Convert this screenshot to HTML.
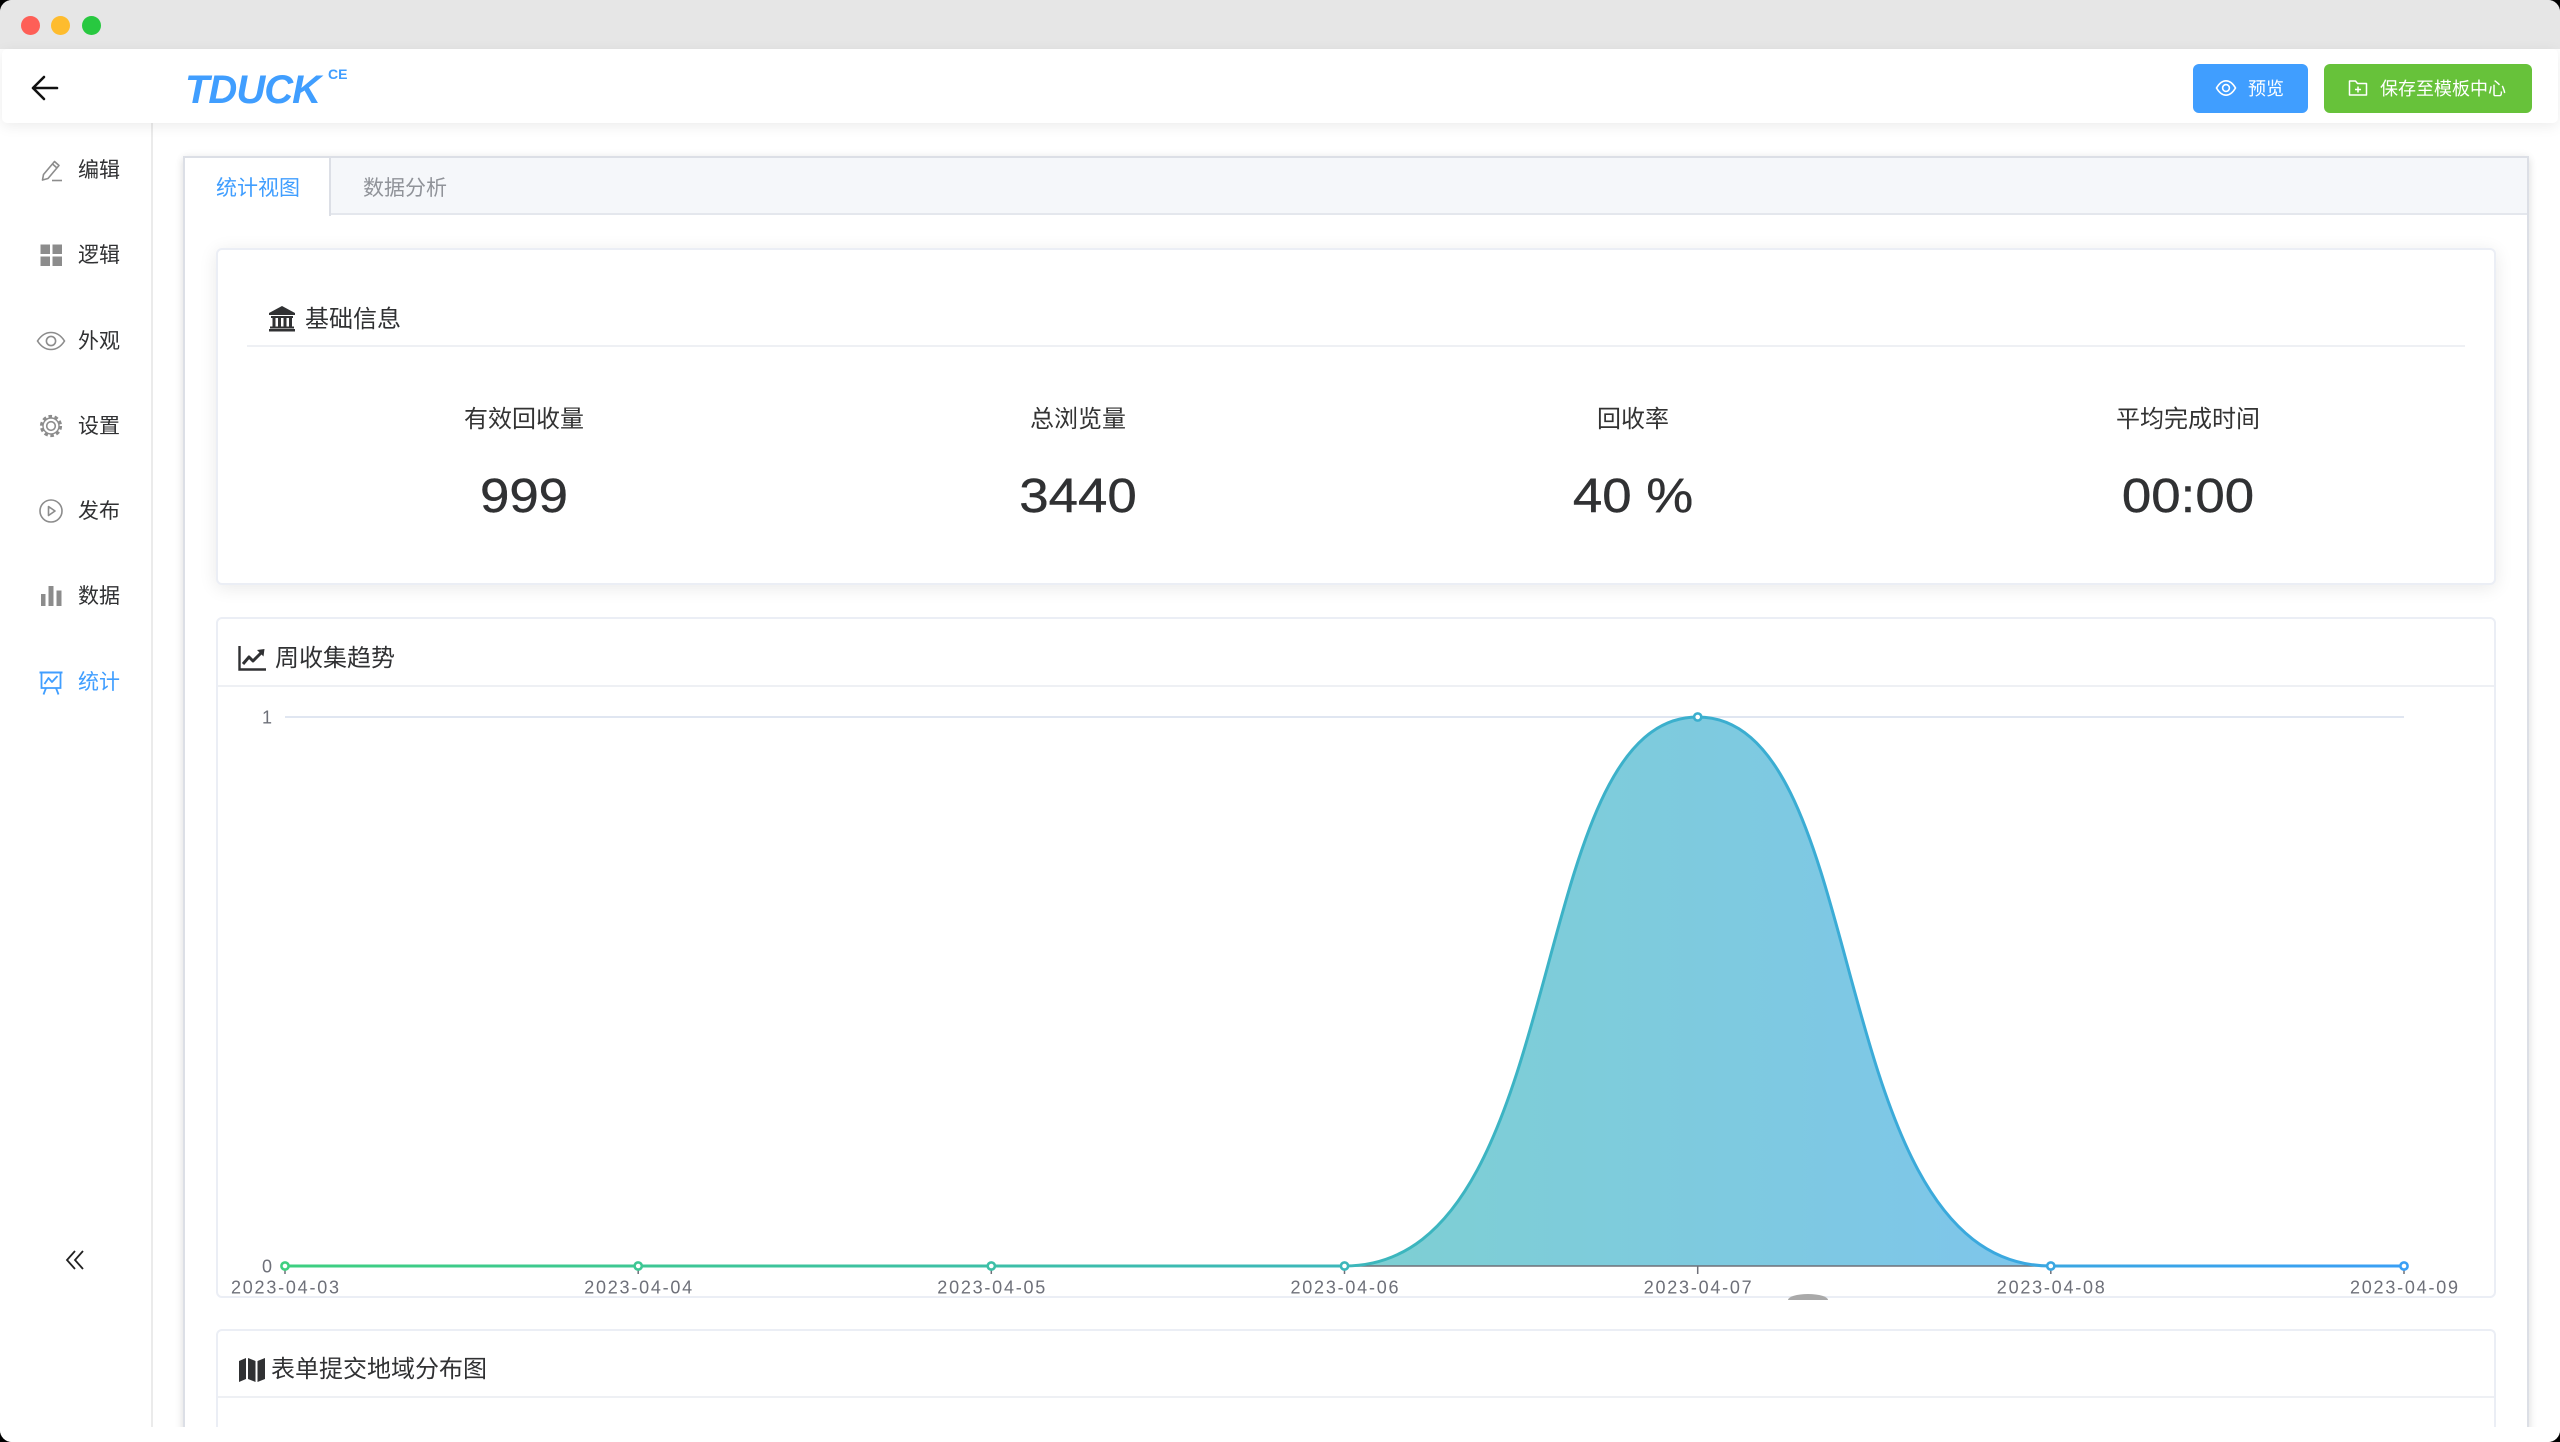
<!DOCTYPE html>
<html><head><meta charset="utf-8">
<style>
*{margin:0;padding:0;box-sizing:border-box}
html,body{width:2560px;height:1442px;overflow:hidden;background:#000}
body{font-family:"Liberation Sans","Noto Sans CJK SC",sans-serif;position:relative}
.win{position:absolute;left:0;top:0;width:2560px;height:1442px;background:#fff;border-radius:12px;overflow:hidden}
.a{position:absolute}
.t{position:absolute;white-space:nowrap;line-height:1}
.light{position:absolute;width:19px;height:19px;border-radius:50%;top:15.5px}
.side-t{font-size:21px;color:#303133;left:78px}
.lbl{font-size:24px;color:#333;width:400px;text-align:center}
.num{font-size:48px;line-height:48px;color:#303133;width:400px;text-align:center;transform:scaleX(1.1);-webkit-text-stroke:0.4px #303133}
.card{position:absolute;background:#fff;border:2px solid #ebeef5;border-radius:6px}
</style></head>
<body>
<div class="win">
  <!-- title bar -->
  <div class="a" style="left:0;top:0;width:2560px;height:49px;background:#e6e6e6"></div>
  <div class="light" style="left:21px;background:#fe5f57"></div>
  <div class="light" style="left:51px;background:#febc2e"></div>
  <div class="light" style="left:82px;background:#28c840"></div>

  <!-- sidebar -->
  <div class="a" style="left:0;top:123px;width:153px;height:1304px;border-right:2px solid #ebebeb;background:#fff"></div>

  <!-- header -->
  <div class="a" style="left:2px;top:49px;width:2556px;height:74px;background:#fff;border-radius:5px;box-shadow:0 3px 14px rgba(0,0,0,0.08)"></div>
  <svg class="a" style="left:30px;top:74px" width="30" height="28" viewBox="0 0 30 28">
    <path d="M3 14 H27 M14 3 L3 14 L14 25" fill="none" stroke="#111" stroke-width="2.6" stroke-linecap="round" stroke-linejoin="round"/>
  </svg>
  <div class="t" style="left:185px;top:70px;font-size:40px;font-weight:bold;font-style:italic;color:#409eff;letter-spacing:-1px">TDUCK</div>
  <div class="t" style="left:328px;top:67px;font-size:14px;font-weight:bold;color:#409eff">CE</div>

  <!-- header buttons -->
  <div class="a" style="left:2193px;top:64px;width:115px;height:49px;background:#409eff;border-radius:6px"></div>
  <svg class="a" style="left:2215px;top:79px" width="22" height="18" viewBox="0 0 22 18">
    <path d="M1.5 9 C5 3 8 1.8 11 1.8 C14 1.8 17 3 20.5 9 C17 15 14 16.2 11 16.2 C8 16.2 5 15 1.5 9 Z" fill="none" stroke="#fff" stroke-width="1.6"/>
    <circle cx="11" cy="9" r="3.4" fill="none" stroke="#fff" stroke-width="1.6"/>
  </svg>
  <div class="t" style="left:2248px;top:79.5px;font-size:18px;color:#fff">预览</div>
  <div class="a" style="left:2324px;top:64px;width:208px;height:49px;background:#67c23a;border-radius:6px"></div>
  <svg class="a" style="left:2348px;top:79px" width="20" height="18" viewBox="0 0 20 18">
    <path d="M1.5 2 H7.5 L9.5 4.5 H18.5 V16 H1.5 Z" fill="none" stroke="#fff" stroke-width="1.5" stroke-linejoin="round"/>
    <path d="M10 7.5 V13.5 M7 10.5 H13" stroke="#fff" stroke-width="1.5"/>
  </svg>
  <div class="t" style="left:2380px;top:79.5px;font-size:18px;color:#fff">保存至模板中心</div>

  <!-- sidebar items -->
  <svg class="a" style="left:39px;top:158px" width="25" height="25" viewBox="0 0 25 25">
    <path d="M3.5 22 L4.5 16.5 L15.5 3.5 L20 7.5 L9 20.5 Z M13.5 6 L18 10" fill="none" stroke="#8c8c8c" stroke-width="1.6" stroke-linejoin="round"/>
    <path d="M13 22.5 H23" stroke="#8c8c8c" stroke-width="1.6"/>
  </svg>
  <div class="t side-t" style="top:159.5px">编辑</div>

  <svg class="a" style="left:40px;top:244px" width="23" height="23" viewBox="0 0 23 23">
    <rect x="0.5" y="0.5" width="9.5" height="9.5" fill="#8c8c8c"/><rect x="12.5" y="0.5" width="9.5" height="9.5" fill="#8c8c8c"/>
    <rect x="0.5" y="12.5" width="9.5" height="9.5" fill="#8c8c8c"/><rect x="12.5" y="12.5" width="9.5" height="9.5" fill="#8c8c8c"/>
  </svg>
  <div class="t side-t" style="top:245px">逻辑</div>

  <svg class="a" style="left:36px;top:331px" width="30" height="20" viewBox="0 0 30 20">
    <path d="M1.5 10 C6 3 10.5 1.5 15 1.5 C19.5 1.5 24 3 28.5 10 C24 17 19.5 18.5 15 18.5 C10.5 18.5 6 17 1.5 10 Z" fill="none" stroke="#8c8c8c" stroke-width="1.6"/>
    <circle cx="15" cy="10" r="4.6" fill="none" stroke="#8c8c8c" stroke-width="1.6"/>
  </svg>
  <div class="t side-t" style="top:330.5px">外观</div>

  <svg class="a" style="left:38px;top:413px" width="26" height="26" viewBox="0 0 26 26">
    <circle cx="13" cy="13" r="9.5" fill="none" stroke="#8c8c8c" stroke-width="3.2" stroke-dasharray="3.5 2.5"/>
    <circle cx="13" cy="13" r="8" fill="#fff" stroke="#8c8c8c" stroke-width="1.4"/>
    <circle cx="13" cy="13" r="4.3" fill="none" stroke="#8c8c8c" stroke-width="1.6"/>
  </svg>
  <div class="t side-t" style="top:415.5px">设置</div>

  <svg class="a" style="left:38px;top:498px" width="26" height="26" viewBox="0 0 26 26">
    <circle cx="13" cy="13" r="11" fill="none" stroke="#8c8c8c" stroke-width="1.6"/>
    <path d="M10.5 8.5 L17 13 L10.5 17.5 Z" fill="none" stroke="#8c8c8c" stroke-width="1.6" stroke-linejoin="round"/>
  </svg>
  <div class="t side-t" style="top:500.5px">发布</div>

  <svg class="a" style="left:40px;top:585px" width="23" height="22" viewBox="0 0 23 22">
    <rect x="1" y="9" width="4.5" height="12" fill="#8c8c8c"/>
    <rect x="8.5" y="1" width="5" height="20" fill="#8c8c8c"/>
    <rect x="16.5" y="5.5" width="5" height="15.5" fill="#8c8c8c"/>
  </svg>
  <div class="t side-t" style="top:586px">数据</div>

  <svg class="a" style="left:38px;top:670px" width="26" height="26" viewBox="0 0 26 26">
    <path d="M1.5 2.5 H24.5" stroke="#409eff" stroke-width="2"/>
    <path d="M3.5 2.5 V18 H22.5 V2.5" fill="none" stroke="#409eff" stroke-width="1.8"/>
    <path d="M6.5 14 L10.5 8 L14 12 L19.5 6" fill="none" stroke="#409eff" stroke-width="1.8" stroke-linejoin="round"/>
    <path d="M8 18 L5.5 24.5 M18 18 L20.5 24.5" stroke="#409eff" stroke-width="1.8"/>
  </svg>
  <div class="t side-t" style="top:672px;color:#409eff">统计</div>

  <svg class="a" style="left:64px;top:1249px" width="24" height="22" viewBox="0 0 24 22">
    <path d="M11 2 L3 11 L11 20 M19 2 L11 11 L19 20" fill="none" stroke="#222" stroke-width="1.8"/>
  </svg>

  <!-- tabs container -->
  <div class="a" style="left:183px;top:156px;width:2346px;height:1286px;background:#fff;border:2px solid #dcdfe6;box-shadow:0 3px 8px rgba(0,0,0,0.12),0 0 10px rgba(0,0,0,0.04)"></div>
  <div class="a" style="left:185px;top:158px;width:2342px;height:57px;background:#f5f7fa;border-bottom:2px solid #e4e7ed"></div>
  <div class="a" style="left:185px;top:158px;width:146px;height:58px;background:#fff;border-right:2px solid #dcdfe6"></div>
  <div class="t" style="left:216px;top:177.5px;font-size:21px;color:#409eff">统计视图</div>
  <div class="t" style="left:363px;top:177.5px;font-size:21px;color:#909399">数据分析</div>

  <!-- basic info card -->
  <div class="card" style="left:216px;top:248px;width:2280px;height:337px;box-shadow:0 3px 18px rgba(0,0,0,0.09)"></div>
  <svg class="a" style="left:268px;top:305px" width="28" height="27" viewBox="0 0 28 27">
    <path d="M1 8 L14 1 L27 8 V10 H1 Z" fill="#303133"/>
    <rect x="3" y="11" width="22" height="2" fill="#303133"/>
    <rect x="4.5" y="13" width="3" height="8.5" fill="#303133"/>
    <rect x="10" y="13" width="3" height="8.5" fill="#303133"/>
    <rect x="15.5" y="13" width="3" height="8.5" fill="#303133"/>
    <rect x="21" y="13" width="3" height="8.5" fill="#303133"/>
    <rect x="2" y="21.5" width="24" height="2" fill="#303133"/>
    <rect x="1" y="24" width="26" height="2.5" fill="#303133"/>
  </svg>
  <div class="t" style="left:305px;top:307.5px;font-size:24px;color:#303133">基础信息</div>
  <div class="a" style="left:247px;top:345px;width:2218px;height:2px;background:#eef0f4"></div>

  <div class="t lbl" style="left:324px;top:408px">有效回收量</div>
  <div class="t lbl" style="left:878px;top:408px">总浏览量</div>
  <div class="t lbl" style="left:1433px;top:408px">回收率</div>
  <div class="t lbl" style="left:1988px;top:408px">平均完成时间</div>
  <div class="t num" style="left:324px;top:473px">999</div>
  <div class="t num" style="left:878px;top:473px">3440</div>
  <div class="t num" style="left:1433px;top:473px">40 %</div>
  <div class="t num" style="left:1988px;top:473px">00:00</div>

  <!-- trend card -->
  <div class="card" style="left:216px;top:617px;width:2280px;height:681px"></div>
  <div class="a" style="left:218px;top:685px;width:2276px;height:2px;background:#eef0f4"></div>
  <svg class="a" style="left:238px;top:645px" width="29" height="26" viewBox="0 0 29 26">
    <path d="M1.5 1 V24.5 H28" fill="none" stroke="#303133" stroke-width="2.4"/>
    <path d="M5 19 L11 12 L15 16 L24 7" fill="none" stroke="#303133" stroke-width="3" stroke-linejoin="round"/>
    <path d="M19 5 L26.5 4 L25.5 11.5 Z" fill="#303133"/>
  </svg>
  <div class="t" style="left:275px;top:647px;font-size:24px;color:#303133">周收集趋势</div>

  <!-- map card -->
  <div class="card" style="left:216px;top:1329px;width:2280px;height:113px;border-bottom:none;border-radius:6px 6px 0 0"></div>
  <div class="a" style="left:218px;top:1396px;width:2276px;height:2px;background:#eef0f4"></div>
  <svg class="a" style="left:238px;top:1357px" width="28" height="26" viewBox="0 0 28 26">
    <path d="M1 4 L8 1 V22 L1 25 Z" fill="#303133"/>
    <path d="M10 1 L17.5 4 V25 L10 22 Z" fill="#303133"/>
    <path d="M19.5 4 L27 1 V22 L19.5 25 Z" fill="#303133"/>
  </svg>
  <div class="t" style="left:271px;top:1358px;font-size:24px;color:#303133">表单提交地域分布图</div>

  <!-- chart -->
  <svg class="a" style="left:0;top:0" width="2560" height="1442" viewBox="0 0 2560 1442">
    <defs>
      <linearGradient id="lg" gradientUnits="userSpaceOnUse" x1="285" y1="0" x2="2404" y2="0">
        <stop offset="0" stop-color="#3ecf80"/>
        <stop offset="1" stop-color="#3a9ff5"/>
      </linearGradient>
    </defs>
    <line x1="285" y1="717" x2="2404" y2="717" stroke="#e0e6f1" stroke-width="2"/>
    <path d="M285,1266 L1344.5,1266 C1573.7,1266 1521.1,717 1697.7,717 C1874.3,717 1821.6,1266 2050.8,1266 L2404,1266 Z" fill="url(#lg)" fill-opacity="0.66"/>
    <line x1="285" y1="1266" x2="2404" y2="1266" stroke="#6e7079" stroke-width="1.5"/>
    <g stroke="#6e7079" stroke-width="1.5">
      <line x1="285" y1="1266" x2="285" y2="1274"/>
      <line x1="638.2" y1="1266" x2="638.2" y2="1274"/>
      <line x1="991.3" y1="1266" x2="991.3" y2="1274"/>
      <line x1="1344.5" y1="1266" x2="1344.5" y2="1274"/>
      <line x1="1697.7" y1="1266" x2="1697.7" y2="1274"/>
      <line x1="2050.8" y1="1266" x2="2050.8" y2="1274"/>
      <line x1="2404" y1="1266" x2="2404" y2="1274"/>
    </g>
    <path d="M285,1266 L1344.5,1266 C1573.7,1266 1521.1,717 1697.7,717 C1874.3,717 1821.6,1266 2050.8,1266 L2404,1266" fill="none" stroke="url(#lg)" stroke-width="3"/>
    <g fill="#fff" stroke="url(#lg)" stroke-width="2.6">
      <circle cx="285" cy="1266" r="3.6"/>
      <circle cx="638.2" cy="1266" r="3.6"/>
      <circle cx="991.3" cy="1266" r="3.6"/>
      <circle cx="1344.5" cy="1266" r="3.6"/>
      <circle cx="1697.7" cy="717" r="3.6"/>
      <circle cx="2050.8" cy="1266" r="3.6"/>
      <circle cx="2404" cy="1266" r="3.6"/>
    </g>
    <g font-family="Liberation Sans, sans-serif" font-size="18" fill="#6e7079">
      <text x="272" y="723.5" text-anchor="end">1</text>
      <text x="272" y="1272.5" text-anchor="end">0</text>
      <g text-anchor="middle">
        <text x="285" y="1293.5" textLength="108" lengthAdjust="spacing">2023-04-03</text>
        <text x="638.2" y="1293.5" textLength="108" lengthAdjust="spacing">2023-04-04</text>
        <text x="991.3" y="1293.5" textLength="108" lengthAdjust="spacing">2023-04-05</text>
        <text x="1344.5" y="1293.5" textLength="108" lengthAdjust="spacing">2023-04-06</text>
        <text x="1697.7" y="1293.5" textLength="108" lengthAdjust="spacing">2023-04-07</text>
        <text x="2050.8" y="1293.5" textLength="108" lengthAdjust="spacing">2023-04-08</text>
        <text x="2404" y="1293.5" textLength="108" lengthAdjust="spacing">2023-04-09</text>
      </g>
    </g>
    <path d="M1788,1300 A20,6 0 0 1 1828,1300 Z" fill="#a9a9a9"/>
  </svg>

  <!-- bottom strip -->
  <div class="a" style="left:0;top:1427px;width:2560px;height:15px;background:#fff"></div>
</div>
</body></html>
